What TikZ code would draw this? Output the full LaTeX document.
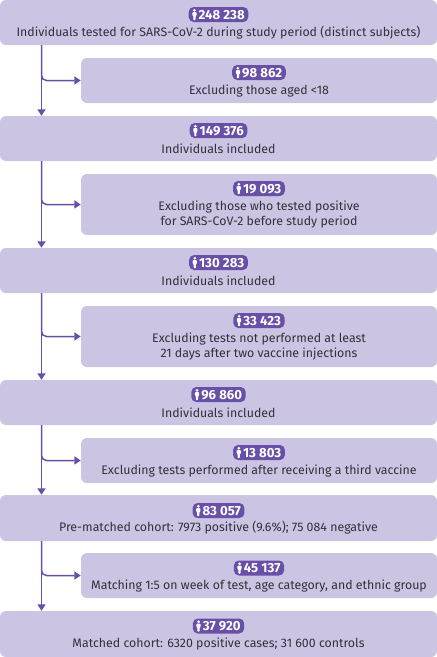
\documentclass[tikz,border=0pt]{standalone}
\usepackage{fontspec}
\setmainfont{Fira Sans}
\usetikzlibrary{arrows.meta}
\definecolor{boxlilac}{HTML}{CBC4E3}
\definecolor{flowpurple}{HTML}{6850A8}
\definecolor{bodygrey}{HTML}{33313A}
\newcommand{\personmark}{\tikz[baseline=0pt,x=1pt,y=1pt]{\fill[white] (0,9) circle (1.5);\fill[white,rounded corners=0.9] (-2.1,3.6) -- (-2.1,7.2) -- (2.1,7.2) -- (2.1,3.6) -- (1.1,3.6) -- (1.1,-1) -- (-1.1,-1) -- (-1.1,3.6) -- cycle;}}
\tikzset{
mainbox/.style={fill=boxlilac,rounded corners=6,minimum width=437,inner sep=0},
exclbox/.style={fill=boxlilac,rounded corners=6,minimum width=356,inner sep=0},
countbadge/.style={fill=flowpurple,text=white,rounded corners=5,inner xsep=3.6,inner ysep=0,minimum height=15,font=\fontsize{13.2}{14}\selectfont\bfseries},
boxtext/.style={text=bodygrey,align=center,inner sep=0,font=\fontsize{12.35}{14.8}\selectfont},
flowline/.style={draw=flowpurple,line width=1.5,-{Triangle[length=6.5,width=8]}}
}
\begin{document}
\begin{tikzpicture}[x=1pt,y=-1pt]
\useasboundingbox[fill=white] (0,0) rectangle (437,657);
\coordinate (trunk) at (41.5,0);
% left column
\node[mainbox,minimum height=45] (main1) at (218.5,22.5) {};
\node[mainbox,minimum height=45] (main2) at (218.5,138.5) {};
\node[mainbox,minimum height=45] (main3) at (218.5,270.5) {};
\node[mainbox,minimum height=45] (main4) at (218.5,402.5) {};
\node[mainbox,minimum height=46] (main5) at (218.5,518) {};
\node[mainbox,minimum height=46] (main6) at (218.5,634) {};
% right column
\node[exclbox,minimum height=45] (excl1) at (259,80.5) {};
\node[exclbox,minimum height=61] (excl2) at (259,204.5) {};
\node[exclbox,minimum height=61] (excl3) at (259,336.5) {};
\node[exclbox,minimum height=45] (excl4) at (259,460.5) {};
\node[exclbox,minimum height=45] (excl5) at (259,575.5) {};
% counts
\node[countbadge] (count1) at (218.5,14.5) {\personmark\,248 238};
\node[countbadge] (count2) at (259,72.5) {\personmark\,98 862};
\node[countbadge] (count3) at (218.5,130.5) {\personmark\,149 376};
\node[countbadge] (count4) at (259,188.5) {\personmark\,19 093};
\node[countbadge] (count5) at (218.5,262.5) {\personmark\,130 283};
\node[countbadge] (count6) at (259,320.5) {\personmark\,33 423};
\node[countbadge] (count7) at (218.5,394.5) {\personmark\,96 860};
\node[countbadge] (count8) at (259,452.5) {\personmark\,13 803};
\node[countbadge] (count9) at (218.5,510.5) {\personmark\,83 057};
\node[countbadge] (count10) at (259,568) {\personmark\,45 137};
\node[countbadge] (count11) at (218.5,626) {\personmark\,37 920};
% labels
\node[boxtext] (text1) at (218.5,32.5) {Individuals tested for SARS-CoV-2 during study period (distinct subjects)};
\node[boxtext] (text2) at (259,90.5) {Excluding those aged <18};
\node[boxtext] (text3) at (218.5,148.5) {Individuals included};
\node[boxtext] (text4) at (259,214.5) {Excluding those who tested positive\\for SARS-CoV-2 before study period};
\node[boxtext] (text5) at (218.5,280.5) {Individuals included};
\node[boxtext] (text6) at (259,346.5) {Excluding tests not performed at least\\21 days after two vaccine injections};
\node[boxtext] (text7) at (218.5,412.5) {Individuals included};
\node[boxtext] (text8) at (259,470.5) {Excluding tests performed after receiving a third vaccine};
\node[boxtext] (text9) at (218.5,527.5) {Pre-matched cohort: 7973 positive (9.6\%); 75 084 negative};
\node[boxtext] (text10) at (259,585.5) {Matching 1:5 on week of test, age category, and ethnic group};
\node[boxtext] (text11) at (218.5,643.5) {Matched cohort: 6320 positive cases; 31 600 controls};
% connectors
\draw[flowline] (main1.south -| trunk) -- (main2.north -| trunk);
\draw[flowline] (main2.south -| trunk) -- (main3.north -| trunk);
\draw[flowline] (main3.south -| trunk) -- (main4.north -| trunk);
\draw[flowline] (main4.south -| trunk) -- (main5.north -| trunk);
\draw[flowline] (main5.south -| trunk) -- (main6.north -| trunk);
\draw[flowline,rounded corners=5] (main1.south -| trunk) |- (excl1.west);
\draw[flowline,rounded corners=5] (main2.south -| trunk) |- (excl2.west);
\draw[flowline,rounded corners=5] (main3.south -| trunk) |- (excl3.west);
\draw[flowline,rounded corners=5] (main4.south -| trunk) |- (excl4.west);
\draw[flowline,rounded corners=5] (main5.south -| trunk) |- (excl5.west);
\end{tikzpicture}
\end{document}
